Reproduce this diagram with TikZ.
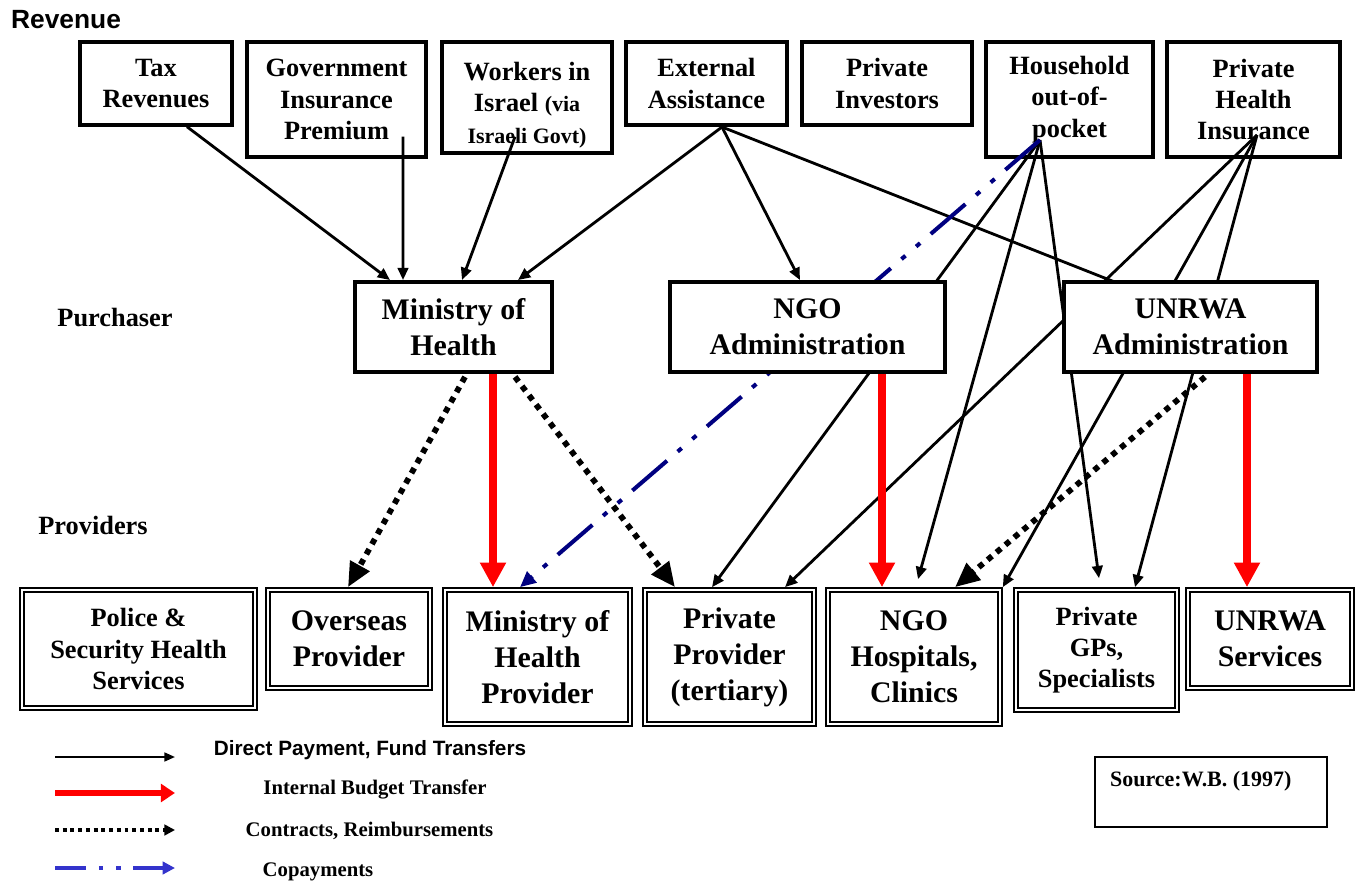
\documentclass[tikz,border=0pt]{standalone}
\usepackage{fontspec}
\setmainfont{Liberation Serif}
\setsansfont{Liberation Sans}
\usetikzlibrary{arrows.meta, calc}

\pgfdeclarelayer{back}
\pgfdeclarelayer{mid}
\pgfsetlayers{back,mid,main}

\definecolor{navy}{RGB}{0,0,128}
\definecolor{legblue}{RGB}{51,51,204}

\newcommand{\bigtxt}{\fontsize{17}{20.5}\selectfont\bfseries}
\newcommand{\midtxt}{\fontsize{15}{17.8}\selectfont\bfseries}
\newcommand{\smalltxt}{\fontsize{12.5}{15}\selectfont\bfseries}
\newcommand{\legtxt}{\fontsize{11.8}{14}\selectfont\bfseries}

\begin{document}
\begin{tikzpicture}[
  x=0.02cm, y=-0.02cm,
  revenue/.style={draw, line width=2pt, fill=white, align=center, font=\midtxt, inner sep=2pt},
  purchaser/.style={draw, line width=2.2pt, fill=white, align=center, font=\bigtxt, minimum height=1.8cm},
  provider/.style={draw, line width=0.9pt, double, double distance=1.3pt, fill=white, align=center, font=\bigtxt, outer sep=1.6pt},
  tier/.style={font=\midtxt},
  payment/.style={-{Triangle[length=7pt,width=6pt]}, line width=1.6pt},
  budget/.style={-{Triangle[length=14pt,width=14pt]}, line width=4pt, red},
  contract/.style={-{Triangle[length=14pt,width=12pt]}, line width=3.3pt, dash pattern=on 3.3pt off 3.3pt},
  copay/.style={-{Triangle[length=9pt,width=8pt]}, line width=2.3pt, navy, dash pattern=on 26pt off 8pt on 3pt off 8pt on 3pt off 8pt}
]
\useasboundingbox (0,0) rectangle (1357,885);

% Tiers
\node[tier] (revenue) at (66,20) {\sffamily Revenue};
\node[tier] (purch) at (115,318) {Purchaser};
\node[tier] (prov) at (93,525) {Providers};

% Revenue sources
\begin{pgfonlayer}{back}
\node[revenue, minimum width=3.04cm, minimum height=1.66cm] (tax) at (156,83.5) {Tax\\Revenues};
\node[revenue, minimum width=3.58cm, minimum height=2.3cm] (gov) at (336.5,99.5) {Government\\Insurance\\Premium};
\node[revenue, minimum width=3.4cm, minimum height=2.22cm] (workers) at (527,97.5) {\rule{0pt}{19pt}Workers in\\Israel {\smalltxt(via}\\{\smalltxt Israeli Govt)}};
\node[revenue, minimum width=3.22cm, minimum height=1.66cm] (external) at (706.5,83.5) {External\\Assistance};
\node[revenue, minimum width=3.4cm, minimum height=1.66cm] (investors) at (887,83.5) {Private\\Investors};
\node[revenue, minimum width=3.34cm, minimum height=2.3cm] (household) at (1069.5,99.5) {Household\\out-of-\\pocket};
\node[revenue, minimum width=3.46cm, minimum height=2.3cm] (insurance) at (1253.5,99.5) {Private\\Health\\Insurance};
\end{pgfonlayer}

% Purchasers
\node[purchaser, minimum width=3.94cm] (moh) at (453.5,327) {Ministry of\\Health};
\node[purchaser, minimum width=5.5cm] (ngo) at (807.5,327) {NGO\\Administration};
\node[purchaser, minimum width=5.06cm] (unrwa) at (1190.5,327) {UNRWA\\Administration};

% Providers
\node[provider, minimum width=4.66cm, minimum height=2.36cm, font=\midtxt] (police) at (138.5,649) {Police \&\\Security Health\\Services};
\node[provider, minimum width=3.24cm, minimum height=1.96cm] (overseas) at (349,639) {Overseas\\Provider};
\node[provider, minimum width=3.7cm, minimum height=2.68cm] (mohprov) at (537.5,657) {Ministry of\\Health\\Provider};
\node[provider, minimum width=3.38cm, minimum height=2.68cm] (privprov) at (729.5,657) {Private\\Provider\\(tertiary)};
\node[provider, minimum width=3.44cm, minimum height=2.68cm] (ngohosp) at (914,657) {NGO\\Hospitals,\\Clinics};
\node[provider, minimum width=3.22cm, minimum height=2.4cm, font=\midtxt] (gps) at (1096.5,650) {Private\\GPs,\\Specialists};
\node[provider, minimum width=3.28cm, minimum height=1.96cm] (unrwaserv) at (1270,639) {UNRWA\\Services};

% Flows
\coordinate (ext-out) at (722,127);
\coordinate (hh-out) at (1040,140);
\coordinate (ins-out) at (1257,135);

\begin{pgfonlayer}{mid}
\draw[payment] ($(tax.south)+(31,0)$) -- ($(moh.north)+(-63.5,0)$);
\draw[payment] ($(gov.south)+(66.5,-22)$) -- ($(moh.north)+(-50.5,0)$);
\draw[payment] ($(workers.south)+(-12,-18)$) -- ($(moh.north)+(8.5,0)$);
\draw[payment] (ext-out) -- ($(moh.north)+(64.5,0)$);
\draw[payment] (ext-out) -- ($(ngo.north)+(-7.5,0)$);
\draw[line width=1.6pt] (ext-out) -- ($(unrwa.north)+(-70.5,4)$);

\draw[payment] (hh-out) -- ($(privprov.north)+(-17.5,0)$);
\draw[payment] (hh-out) -- ($(ngohosp.north)+(4,-8)$);
\draw[payment] (hh-out) -- ($(gps.north)+(2.5,-9)$);
\draw[copay] (hh-out) -- ($(mohprov.north)+(-17.5,0)$);

\draw[payment] (ins-out) -- ($(privprov.north)+(55.5,0)$);
\draw[payment] (ins-out) -- (ngohosp.north east);
\draw[payment] (ins-out) -- ($(gps.north)+(38.5,0)$);

\draw[budget] ($(moh.south)+(39.5,0)$) coordinate (b1) -- (b1 |- mohprov.north);
\draw[contract] ($(moh.south)+(11.5,3)$) -- ($(overseas.north)+(-1,0)$);
\draw[contract] ($(moh.south)+(61.5,3)$) -- ($(privprov.north)+(-54.5,0)$);
\draw[budget] ($(ngo.south)+(74.5,0)$) coordinate (b2) -- (b2 |- ngohosp.north);
\draw[contract] ($(unrwa.south)+(14.5,3)$) -- ($(ngohosp.north)+(41,0)$);
\draw[budget] ($(unrwa.south)+(56.5,0)$) coordinate (b3) -- (b3 |- unrwaserv.north);
\end{pgfonlayer}

% Legend
\coordinate (leg1a) at (55,757); \coordinate (leg1b) at (175,757);
\coordinate (leg2a) at (55,793); \coordinate (leg2b) at (175,793);
\coordinate (leg3a) at (55,830); \coordinate (leg3b) at (175,830);
\coordinate (leg4a) at (55,868); \coordinate (leg4b) at (175,868);
\draw[-{Triangle[length=6pt,width=5pt]}, line width=1.2pt] (leg1a) -- (leg1b);
\draw[-{Triangle[length=8pt,width=10pt]}, line width=3.5pt, red] (leg2a) -- (leg2b);
\draw[-{Triangle[length=6pt,width=6pt]}, line width=2.2pt, dash pattern=on 2.2pt off 2.2pt] (leg3a) -- (leg3b);
\draw[-{Triangle[length=7pt,width=7pt]}, line width=2pt, legblue, dash pattern=on 17.5pt off 7.5pt on 2.5pt off 7.5pt on 2.5pt off 7pt] (leg4a) -- (leg4b);
\node[font=\sffamily\legtxt] (leg1) at (370,750) {Direct Payment, Fund Transfers};
\node[font=\legtxt] (leg2) at (375,789) {Internal Budget Transfer};
\node[font=\legtxt] (leg3) at (369.5,831) {Contracts, Reimbursements};
\node[font=\legtxt] (leg4) at (318,872) {Copayments};

% Source
\node[draw, line width=0.8pt, minimum width=4.64cm, minimum height=1.4cm] (source) at (1211,792) {};
\node[font=\smalltxt, anchor=west] (sourcetxt) at (1104,781) {Source:W.B. (1997)};

\end{tikzpicture}
\end{document}
